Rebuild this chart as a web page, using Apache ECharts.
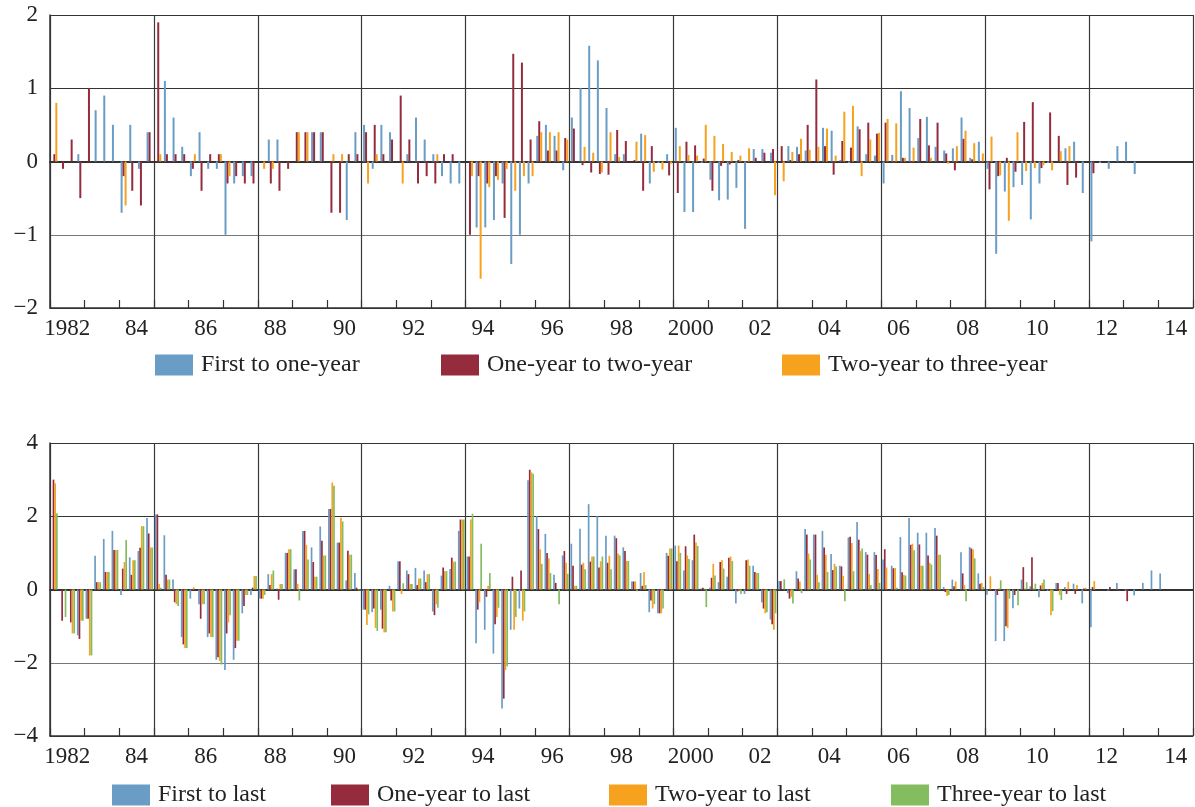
<!DOCTYPE html>
<html><head><meta charset="utf-8">
<script src="https://cdn.jsdelivr.net/npm/echarts@6/dist/echarts.min.js"></script>
<style>html,body{margin:0;padding:0;background:#fff}#c{width:1195px;height:807px}</style>
</head><body><div id="c"></div>
<script>
// ---------- categories ----------
const yearLabels = ['1982','83','84','85','86','87','88','89','90','91','92','93','94','95','96','97','98','99',
  '2000','01','02','03','04','05','06','07','08','09','10','11','12','13','14'];
const quarterNames = ['Q1','Q2','Q3','Q4'];

// ---------- top panel (quarterly, 1982Q1 .. 2014Q4) ----------
const firstToOneYear = [
 0,0,0,0.1, 0,0.7,0.9,0.5, -0.7,0.5,-0.1,0.4, 0,1.1,0.6,0.2, -0.2,0.4,-0.1,-0.1,
 -1.0,-0.3,-0.2,-0.2, 0,0.3,0.3,0, 0,0,0.4,0.4, 0,0,-0.8,0.4, 0.5,-0.1,0.5,0.4,
 0,0.1,0.6,0.3, 0.1,-0.2,-0.3,-0.3, 0,-0.9,-0.9,-0.8, -0.3,-1.4,-1.0,-0.3, 0.35,0.5,0.35,-0.12,
 0.6,1.0,1.58,1.38, 0.73,0.1,0.1,0, 0.38,-0.3,-0.02,0.1, 0.46,-0.69,-0.69,-0.02, -0.25,-0.53,-0.52,-0.36,
 -0.92,0.17,0.17,0.12, 0,0.21,0.2,0.15, 0,0.46,0.42,0.02, -0.02,0.48,0.1,0.08, -0.3,0.09,0.96,0.73,
 0.32,0.61,0.2,0.15, 0.18,0.6,0.05,0.27, -0.1,-1.26,-0.41,-0.35, -0.32,-0.79,-0.3,-0.02, 0,0.18,0.27,-0.43,
 -1.09,-0.02,-0.1,0.21, 0.27,-0.17,0,0, 0,0,0,0
];
const oneToTwoYear = [
 0.1,-0.1,0.3,-0.5, 1.0,0,0,0, -0.2,-0.4,-0.6,0.4, 1.9,0.1,0.1,0.1, -0.1,-0.4,0.1,0.1,
 -0.3,-0.2,-0.3,-0.3, 0,-0.3,-0.4,-0.1, 0.4,0.4,0.4,0.4, -0.7,-0.7,0.1,0.1, 0.4,0.5,0.1,0.3,
 0.9,0.3,-0.3,-0.2, -0.3,0.1,0.1,0, -1.0,-0.2,-0.3,-0.2, -0.77,1.47,1.35,0.3, 0.55,0.15,0.15,0.32,
 0.45,-0.05,-0.15,-0.17, -0.18,0.43,0.28,0.02, -0.4,0.21,0,-0.19, -0.43,0.27,0.22,0.04, -0.4,-0.06,-0.04,0.02,
 -0.02,0.05,0.12,0.17, 0.21,0.02,0.1,0.5, 1.12,0.21,-0.18,0.28, 0.19,0.44,0.53,0.38, 0.53,-0.02,0.05,-0.02,
 0.58,0.22,0.53,0.11, -0.12,0.31,0.03,-0.02, -0.38,-0.2,0.05,-0.14, 0.54,0.81,-0.09,0.67, 0.35,-0.32,-0.22,0,
 -0.16,0,0,0, 0,0,0,0, 0,0,0,0
];
const twoToThreeYear = [
 0.8,0,0,0, 0,0,0,0, -0.6,0,0,0, 0.1,0,0,0, 0.1,0,0,0.1,
 -0.2,0,0,0, -0.1,-0.1,0,0, 0.4,0.4,0,0, 0.1,0.1,0,0, -0.3,0.1,0,0,
 -0.3,0,0,0, 0.1,0,0,0, -0.2,-1.6,-0.35,-0.25, -0.1,-0.4,-0.2,-0.2, 0.4,0.4,0.4,0.3,
 0,0.2,0.12,-0.15, 0.4,0.06,0,0.27, 0.36,-0.14,-0.11,-0.03, 0.21,0.09,0.08,0.5, 0.35,0.24,0.13,0.08,
 0.18,0,0,-0.46, -0.27,0.13,0.31,0.16, 0.2,0.45,0.08,0.68, 0.76,-0.2,0.3,0.39, 0.58,0.52,0.05,0.19,
 0,0.05,0,-0.03, 0.21,0.42,0.25,0.11, 0.34,-0.19,-0.81,0.4, -0.13,-0.09,-0.05,-0.12, 0.14,0.21,0,0,
 0,0,0,0, 0,0,0,0, 0,0,0,0
];

// ---------- bottom panel ----------
const firstToLast = [
 0,0,0,-1.25, -0.8,0.92,1.38,1.6, -0.15,0.88,1.05,1.95, 2.05,1.48,0.27,-1.3, -0.25,-0.4,-1.3,-1.92,
 -2.2,-1.92,-0.65,-0.15, -0.25,0.42,0.03,1.0, 0.55,1.6,1.15,1.72, 2.2,1.28,0.25,0.45, -0.55,-0.62,-0.55,0.1,
 0.77,0.52,0.59,0.52, -0.6,0.38,0.56,1.6, 0.9,-1.47,-1.1,-1.75, -3.25,-1.1,-0.52,2.98, 2.0,1.52,0.4,0.93,
 1.25,1.66,2.33,2.0, 1.47,1.47,1.15,0.22, 0.45,-0.62,-0.65,1.0, 1.2,0.52,0.8,0.03, 0.05,0.2,0.35,-0.38,
 -0.12,0.65,-0.35,-0.82, 0.23,-0.1,0.5,1.65, 1.5,1.6,0.97,0.65, 1.42,1.84,1.02,1.02, 0.82,0.65,1.43,1.95,
 1.55,1.55,1.68,0.07, 0.27,1.02,1.16,0.44, -0.14,-1.41,-1.41,-0.51, 0.27,0.09,-0.21,-0.04, 0.18,0.07,0.16,-0.38,
 -1.03,0,-0.03,0.18, -0.03,-0.16,0.18,0.52, 0.44,0,0,0
];
const oneYearToLast = [
 3.0,-0.85,-0.9,-1.35, -0.8,0.2,0.48,1.08, 0.57,0.4,1.14,1.53, 2.05,0.4,-0.35,-1.5, -0.02,-0.8,-1.2,-1.85,
 -1.2,-1.6,-0.45,0.05, -0.25,0.12,-0.28,1.0, 0.55,1.6,0.75,1.33, 2.2,1.28,1.06,0.05, -0.55,-0.52,-1.07,-0.3,
 0.77,0.42,0.12,0.2, -0.7,0.6,0.87,1.91, 0.9,-0.55,-0.2,-0.95, -2.98,0.35,0.52,3.27, 1.65,1.0,0.18,1.05,
 0.65,0.68,0.76,0.6, 0.73,1.4,1.05,0.22, 0.1,-0.3,-0.65,0.92, 0.77,1.18,1.5,0.05, 0.32,0.75,0.87,-0.05,
 0.8,0.48,-0.52,-0.95, 0.23,-0.25,0.3,1.5, 1.5,1.15,0.53,0.63, 1.44,1.36,0.95,0.94, 1.1,0.58,0.47,1.22,
 1.23,0.93,1.47,-0.07, 0.09,0.44,1.12,0.16, 0,-0.15,-1.0,-0.15, 0.61,0.88,0.11,-0.03, 0.18,-0.12,-0.12,0.03,
 0.07,0,0.07,-0.03, -0.32,0,0,0, 0,0,0,0
];
const twoYearToLast = [
 2.9,0,-1.2,-0.85, -1.8,0.2,0.48,1.08, 0.75,0.8,1.73,1.15, 0.15,0.27,-0.4,-1.6, 0.06,-0.4,-1.3,-1.95,
 -0.9,-1.4,-0.15,0.37, -0.25,0.42,0.15,1.1, 0.15,1.22,0.35,0.93, 2.92,1.96,0.95,-0.02, -0.97,-1.05,-1.17,-0.6,
 -0.12,0.15,0.3,0.42, -0.4,0.5,0.76,1.91, 1.91,-0.35,0.1,-0.75, -2.2,-1.1,-0.85,3.2, 1.1,0.85,0,0.73,
 0.1,0.73,0.9,0.77, 0.92,0.98,0.78,0.22, 0.48,-0.52,-0.65,1.12, 1.2,0.93,1.28,0.02, 0.7,0.8,0.9,-0.03,
 0.82,0.45,-0.65,-1.1, 0,-0.2,0.22,0.98, 0.4,0.95,0.7,0.37, 1.27,1.05,0.42,0.56, 0.6,0.59,0.4,1.25,
 0.65,0.73,0.95,-0.18, 0.22,0.12,1.09,0.18, 0.36,0.03,-1.05,0, 0.03,0.03,0.18,-0.7, -0.15,0.21,0.12,0.05,
 0.23,0,0,0, 0,0,0,0, 0,0,0,0
];
const threeYearToLast = [
 2.08,-0.75,-1.2,-0.85, -1.8,0.2,0.48,1.08, 1.35,0.8,1.73,1.15, 0.05,0.27,-0.45,-1.6, 0,-0.4,-1.3,-2.05,
 -0.7,-1.4,-0.15,0.37, -0.15,0.52,0.15,1.1, -0.3,0.82,0.35,0.93, 2.83,1.86,0.95,-0.03, -0.68,-1.13,-1.17,-0.6,
 0.17,0.15,0.3,0.42, -0.5,0.5,0.76,1.91, 2.07,1.25,0.45,-0.5, -2.1,-0.75,-0.6,3.16, 0.7,0.45,-0.4,0.43,
 0.1,0.55,0.9,0.9, 0.55,0.93,0.78,-0.05, 0.12,-0.4,-0.52,1.12, 1.0,0.83,1.19,-0.48, 0.38,0.57,0.78,-0.12,
 0.65,0.45,-0.62,-0.65, 0.28,-0.38,-0.1,0.82, 0.2,0.48,0.63,-0.32, 0.5,1.12,0.12,0.18, 0,0.05,0.38,1.07,
 0.65,0.68,0.95,-0.15, 0,-0.32,0.85,0.07, 0,0.25,-0.25,-0.43, 0.2,0.16,0.27,-0.59, -0.29,0,0,0,
 0,0,0,0, 0,0,0,0, 0,0,0,0
];

const topNames = ['First to one-year','One-year to two-year','Two-year to three-year'];
const bottomNames = ['First to last','One-year to last','Two-year to last','Three-year to last'];
const topTicks = [-2,-1,0,1,2];
const bottomTicks = [-4,-2,0,2,4];

// ---------- build ----------
const COLORS = ['#6a9dc6','#952c3d','#f6a21e','#84bd5f'];
const FONT = '"Liberation Serif","Times New Roman",serif';
const quarters = [];
yearLabels.forEach(y => quarterNames.forEach(q => quarters.push(y + q)));
const minus = v => (v < 0 ? '\u2212' + Math.abs(v) : String(v));

function xAxesFor(g) {
  return [
    { gridIndex: g, type: 'category', data: yearLabels, position: 'bottom',
      axisLine: { onZero: false, lineStyle: { color: '#333', width: 1.5 } },
      axisTick: { show: true, inside: true, length: 8, interval: 0, lineStyle: { color: '#333', width: 1.2 } },
      axisLabel: { interval: 1, fontFamily: FONT, fontSize: 23, color: '#222', margin: 9 },
      splitLine: { show: true, interval: 2, lineStyle: { color: '#3a3a3a', width: 1.2 } } },
    { gridIndex: g, type: 'category', data: quarters, position: 'top',
      axisLine: { onZero: true, lineStyle: { color: '#333', width: 1.8 } },
      axisTick: { show: false }, axisLabel: { show: false }, splitLine: { show: false } }
  ];
}
function yAxisFor(g, ticks) {
  return { gridIndex: g, type: 'value', min: ticks[0], max: ticks[ticks.length - 1], interval: ticks[1] - ticks[0],
    axisLine: { show: true, lineStyle: { color: '#333', width: 1.5 } }, axisTick: { show: false },
    axisLabel: { fontFamily: FONT, fontSize: 23, color: '#222', margin: 12, formatter: minus },
    splitLine: { show: true, lineStyle: { color: ['#333', '#777', '#333', '#333', '#333'], width: 1.2 } } };
}

const series = [];
[firstToOneYear, oneToTwoYear, twoToThreeYear].forEach((d, i) => series.push({
  name: topNames[i], type: 'bar', xAxisIndex: 1, yAxisIndex: 0, data: d, barWidth: 2, barGap: '0%',
  itemStyle: { color: COLORS[i] }, z: 2 }));
[firstToLast, oneYearToLast, twoYearToLast, threeYearToLast].forEach((d, i) => series.push({
  name: bottomNames[i], type: 'bar', xAxisIndex: 3, yAxisIndex: 1, data: d, barWidth: 1.7, barGap: '0%',
  itemStyle: { color: COLORS[i] }, z: 2 }));

const legendPos = [
  [topNames[0], 155, 353], [topNames[1], 441, 353], [topNames[2], 782, 353],
  [bottomNames[0], 112, 783], [bottomNames[1], 331, 783], [bottomNames[2], 609, 783], [bottomNames[3], 891, 783]
];
const legend = legendPos.map(([n, x, y]) => ({
  data: [n], left: x, top: y, padding: 0, itemWidth: 38, itemHeight: 21, icon: 'rect', selectedMode: false,
  textStyle: { fontFamily: FONT, fontSize: 24, color: '#222', padding: [0, 0, 0, 3] }
}));

const chart = echarts.init(document.getElementById('c'), null, { renderer: 'canvas' });
chart.setOption({
  animation: false,
  backgroundColor: '#fff',
  grid: [
    { left: 50, right: 2, top: 15, height: 293 },
    { left: 50, right: 2, top: 443, height: 293 }
  ],
  xAxis: [...xAxesFor(0), ...xAxesFor(1)],
  yAxis: [yAxisFor(0, topTicks), yAxisFor(1, bottomTicks)],
  legend,
  series
});
</script></body></html>
